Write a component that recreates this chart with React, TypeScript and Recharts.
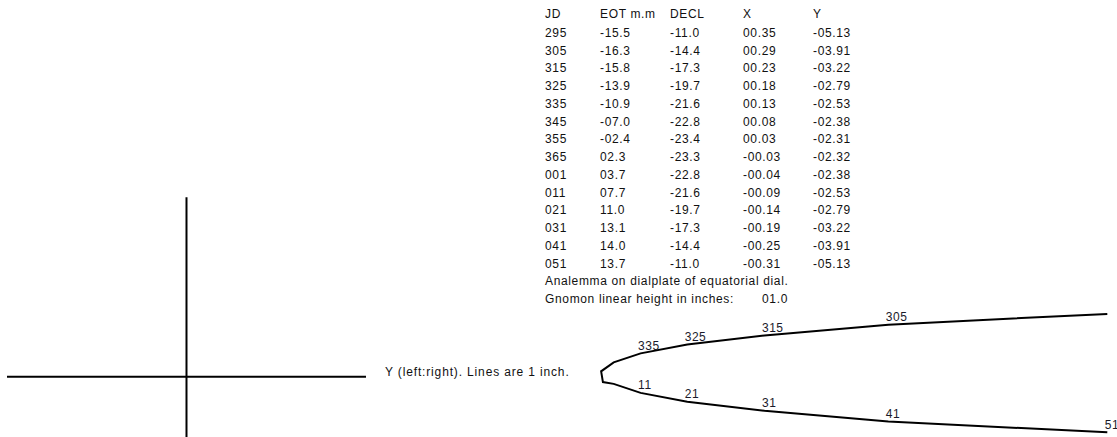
import React from "react";
import {
	ScatterChart,
	Scatter,
	XAxis,
	YAxis,
	ReferenceLine,
	LabelList,
} from "recharts";

// Julian day, equation of time (min), declination (deg), X and Y on dialplate (inches)
const jd = [295, 305, 315, 325, 335, 345, 355, 365, 1, 11, 21, 31, 41, 51];
const eot = [-15.5, -16.3, -15.8, -13.9, -10.9, -7.0, -2.4, 2.3, 3.7, 7.7, 11.0, 13.1, 14.0, 13.7];
const decl = [-11.0, -14.4, -17.3, -19.7, -21.6, -22.8, -23.4, -23.3, -22.8, -21.6, -19.7, -17.3, -14.4, -11.0];
const xs = [0.35, 0.29, 0.23, 0.18, 0.13, 0.08, 0.03, -0.03, -0.04, -0.09, -0.14, -0.19, -0.25, -0.31];
const ys = [-5.13, -3.91, -3.22, -2.79, -2.53, -2.38, -2.31, -2.32, -2.38, -2.53, -2.79, -3.22, -3.91, -5.13];

const labelledDays = [305, 315, 325, 335, 11, 21, 31, 41, 51];
const headers = ["JD", "EOT m.m", "DECL", "X", "Y"];

const W = 1117;
const H = 437;
const FONT = "Arial, 'Liberation Sans', sans-serif";

const pad = (v: number, dec: number) => {
	const s = Math.abs(v).toFixed(dec).padStart(dec + 3, "0");
	return (v < 0 ? "-" : "") + s;
};

const data = jd.map((d, i) => ({ day: d, x: xs[i], y: ys[i] }));

const colX = [545, 600, 670, 743, 813];
const rowBase = (i: number) => (i === 0 ? 17.6 : 36.8 + (i - 1) * 17.75);

const DayLabel = (props: any) => {
	const { x, y, value } = props;
	if (!labelledDays.includes(value)) return null;
	return (
		<text x={x + 2} y={y + 1} fontSize={12} fontFamily={FONT} fill="#1a1a2a" letterSpacing={0.5}>
			{String(value)}
		</text>
	);
};

export default function App() {
	const rows = jd.map((d, i) => [
		String(d).padStart(3, "0"),
		pad(eot[i], 1),
		pad(decl[i], 1),
		pad(xs[i], 2),
		pad(ys[i], 2),
	]);

	return (
		<div style={{ position: "absolute", left: 0, top: 0, width: W, height: H, background: "#fff", overflow: "hidden" }}>
			<ScatterChart width={W} height={H} margin={{ top: 0, right: 0, bottom: 0, left: 0 }}>
				<XAxis type="number" dataKey="y" domain={[-5.184, 1.039]} reversed hide allowDataOverflow />
				<YAxis type="number" dataKey="x" domain={[-0.3359, 2.0986]} hide allowDataOverflow />
				<ReferenceLine
					segment={[{ x: 1, y: 0 }, { x: -1, y: 0 }]}
					stroke="#000"
					strokeWidth={2}
					ifOverflow="hidden"
				/>
				<ReferenceLine
					segment={[{ x: 0, y: 1 }, { x: 0, y: -1 }]}
					stroke="#000"
					strokeWidth={2}
					ifOverflow="hidden"
				/>
				<Scatter
					data={data}
					line={{ stroke: "#000", strokeWidth: 2 }}
					lineType="joint"
					shape={() => <g />}
					isAnimationActive={false}
				>
					<LabelList dataKey="day" content={<DayLabel />} />
				</Scatter>
			</ScatterChart>
			<svg width={W} height={H} style={{ position: "absolute", left: 0, top: 0, pointerEvents: "none" }}>
				<g fontFamily={FONT} fontSize={12} fill="#111" letterSpacing={0.65}>
					{headers.map((h, c) => (
						<text key={h} x={colX[c]} y={rowBase(0)}>
							{h}
						</text>
					))}
					{rows.map((r, i) =>
						r.map((cell, c) => (
							<text key={`${i}-${c}`} x={colX[c]} y={rowBase(i + 1)}>
								{cell}
							</text>
						)),
					)}
					<text x={545} y={rowBase(jd.length + 1)}>
						Analemma on dialplate of equatorial dial.
					</text>
					<text x={545} y={rowBase(jd.length + 2)}>
						Gnomon linear height in inches:
					</text>
					<text x={762} y={rowBase(jd.length + 2)}>
						01.0
					</text>
					<text x={385} y={376} letterSpacing={0.85}>
						Y (left:right). Lines are 1 inch.
					</text>
				</g>
			</svg>
		</div>
	);
}
